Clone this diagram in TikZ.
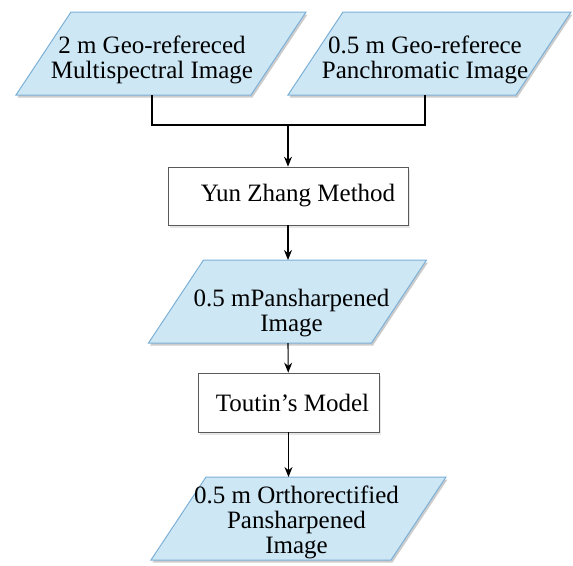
\documentclass[tikz,border=0pt]{standalone}
\usepackage{fontspec}
\setmainfont{Liberation Serif}
\usetikzlibrary{arrows.meta,shadows,calc}
\definecolor{paraFill}{HTML}{CDE7F5}
\definecolor{paraLine}{HTML}{7DB0D6}
\definecolor{boxLine}{HTML}{5A5A5A}

\tikzset{
  parashadow/.style={fill=black, opacity=0.2},
  parashape/.style={draw=paraLine, fill=paraFill, line width=1pt},
  paratext/.style={inner sep=0pt, align=center},
  procbox/.style={rectangle, draw=boxLine, fill=white, line width=0.7pt,
    inner sep=0pt, align=center,
    drop shadow={shadow xshift=1.5pt, shadow yshift=-2.5pt, opacity=0.2}},
  flow/.style={line width=1.1pt, -{Stealth[length=10pt,width=8pt]}}
}

% name, text position, shape centre, body width, text
\newcommand{\imgpara}[5]{%
  \coordinate (c) at (#3);
  \coordinate (t) at (#2);
  \foreach \dx/\dy/\sty in {1.5/2.5/parashadow, 0/0/parashape}
    \path[\sty] ([shift={(-#4/2+27.5+\dx,-41.5+\dy)}]c)
      -- ([shift={(#4/2+27.5+\dx,-41.5+\dy)}]c)
      -- ([shift={(#4/2-27.5+\dx,41.5+\dy)}]c)
      -- ([shift={(-#4/2-27.5+\dx,41.5+\dy)}]c) -- cycle;
  \coordinate (#1-in) at ($(t |- c)+(0,-41.5)$);
  \coordinate (#1-out) at ($(t |- c)+(0,41.5)$);
  \node[paratext] (#1) at (t) {#5};
}

\begin{document}
\begin{tikzpicture}[x=1pt, y=-1pt, font=\fontsize{25}{25}\selectfont]
\useasboundingbox (0,0) rectangle (573,565);

% inputs
\imgpara{multi}{152,60}{161,53.5}{235}{2 m Geo-refereced\\Multispectral Image}
\imgpara{pan}{425,60}{429.5,53.5}{228}{0.5 m Geo-referece\\Panchromatic Image}

% processing chain
\node[procbox, minimum width=240pt, minimum height=58pt] (yun) at (288,196) {\hspace{20pt}Yun Zhang Method};
\imgpara{pans}{291.5,313}{287.5,301.5}{223}{0.5 mPansharpened\\Image}
\node[procbox, minimum width=181pt, minimum height=59pt] (toutin) at (288.5,402.5) {\hspace{8pt}Toutin’s Model};
\imgpara{ortho}{296.5,522}{298.5,518.5}{240}{0.5 m Orthorectified\\Pansharpened\\Image}

% connectors
\coordinate (join) at (288,125);
\draw[line width=1.1pt] (multi-out) |- (join) -| (pan-out);
\draw[flow] (join) -- (yun);
\draw[flow] (yun) -- (yun |- pans-in);
\draw[flow] (yun |- pans-out) -- (toutin);
\draw[flow] (toutin) -- (toutin |- ortho-in);
\end{tikzpicture}
\end{document}
